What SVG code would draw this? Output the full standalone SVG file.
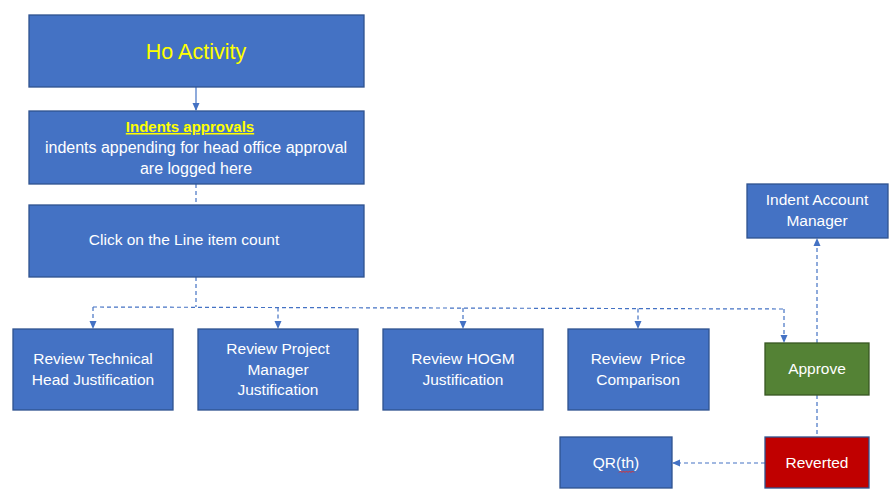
<svg xmlns="http://www.w3.org/2000/svg" width="894" height="499" viewBox="0 0 894 499">
<defs>
<marker id="ah" markerWidth="8" markerHeight="8" refX="7" refY="4" orient="auto" markerUnits="userSpaceOnUse">
<path d="M0,0.5 L8,4 L0,7.5 Z" fill="#4472C4"/>
</marker>
<style>
.b{fill:#4472C4;stroke:#2F528F;stroke-width:1.3}
.g{fill:#548235;stroke:#385723;stroke-width:1.3}
.r{fill:#C00000;stroke:#2F528F;stroke-width:1.3}
.t{font-family:"Liberation Sans",Arial,sans-serif;font-size:15.5px;fill:#fff;text-anchor:middle}
.y{fill:#FFFF00}
.c{fill:none;stroke:#4472C4;stroke-width:1.2}
.d{stroke-dasharray:4,3}
</style>
</defs>
<g id="connectors">
<line class="c" x1="196" y1="87" x2="196" y2="110" marker-end="url(#ah)"/>
<line class="c d" x1="196" y1="184" x2="196" y2="205"/>
<line class="c d" x1="196" y1="277" x2="196" y2="307"/>
<polyline class="c d" points="93,307 784,309"/>
<line class="c d" x1="93" y1="307" x2="93" y2="328" marker-end="url(#ah)"/>
<line class="c d" x1="278" y1="307.5" x2="278" y2="328" marker-end="url(#ah)"/>
<line class="c d" x1="463" y1="308" x2="463" y2="328" marker-end="url(#ah)"/>
<line class="c d" x1="638" y1="308.5" x2="638" y2="328" marker-end="url(#ah)"/>
<line class="c d" x1="784" y1="309" x2="784" y2="342" marker-end="url(#ah)"/>
<line class="c d" x1="817" y1="343" x2="817" y2="239" marker-end="url(#ah)"/>
<line class="c d" x1="817" y1="395" x2="817" y2="437"/>
<line class="c d" x1="765" y1="463" x2="673" y2="463" marker-end="url(#ah)"/>
</g>
<g id="ho-activity">
<rect class="b" x="29" y="15" width="335" height="72"/>
<text class="t y" x="196" y="59" style="font-size:21.5px">Ho Activity</text>
</g>
<g id="indents-approvals">
<rect class="b" x="29" y="111" width="335" height="73"/>
<text class="t y" x="190" y="132" font-weight="bold" text-decoration="underline" style="font-size:15px">Indents approvals</text>
<text class="t" x="196" y="153" style="font-size:16px">indents appending for head office approval</text>
<text class="t" x="196" y="174" style="font-size:16px">are logged here</text>
</g>
<g id="click-line">
<rect class="b" x="29" y="205" width="335" height="72"/>
<text class="t" x="184" y="245">Click on the Line item count</text>
</g>
<g id="review-technical">
<rect class="b" x="13" y="329" width="160" height="81"/>
<text class="t" x="93" y="364">Review Technical</text>
<text class="t" x="93" y="385">Head Justification</text>
</g>
<g id="review-project">
<rect class="b" x="198" y="329" width="160" height="81"/>
<text class="t" x="278" y="354">Review Project</text>
<text class="t" x="278" y="375">Manager</text>
<text class="t" x="278" y="395">Justification</text>
</g>
<g id="review-hogm">
<rect class="b" x="383" y="329" width="160" height="81"/>
<text class="t" x="463" y="364">Review HOGM</text>
<text class="t" x="463" y="385">Justification</text>
</g>
<g id="review-price">
<rect class="b" x="568" y="329" width="141" height="81"/>
<text class="t" x="638" y="364" xml:space="preserve">Review  Price</text>
<text class="t" x="638" y="385">Comparison</text>
</g>
<g id="indent-account-manager">
<rect class="b" x="747" y="184" width="141" height="54"/>
<text class="t" x="817" y="205">Indent Account</text>
<text class="t" x="817" y="226">Manager</text>
</g>
<g id="approve">
<rect class="g" x="765" y="343" width="104" height="52"/>
<text class="t" x="817" y="374">Approve</text>
</g>
<g id="reverted">
<rect class="r" x="765" y="437" width="104" height="51"/>
<text class="t" x="817" y="468">Reverted</text>
</g>
<g id="qr-th">
<rect class="b" x="560" y="437" width="112" height="51"/>
<text class="t" x="616" y="468">QR(th)</text>
<path d="M619,472.5 l1.5,-1.5 l1.5,1.5 l1.5,-1.5 l1.5,1.5 l1.5,-1.5 l1.5,1.5 l1.5,-1.5 l1.5,1.5 l1.5,-1.5 l1.5,1.5" fill="none" stroke="#E03030" stroke-width="1"/>
</g>
</svg>
